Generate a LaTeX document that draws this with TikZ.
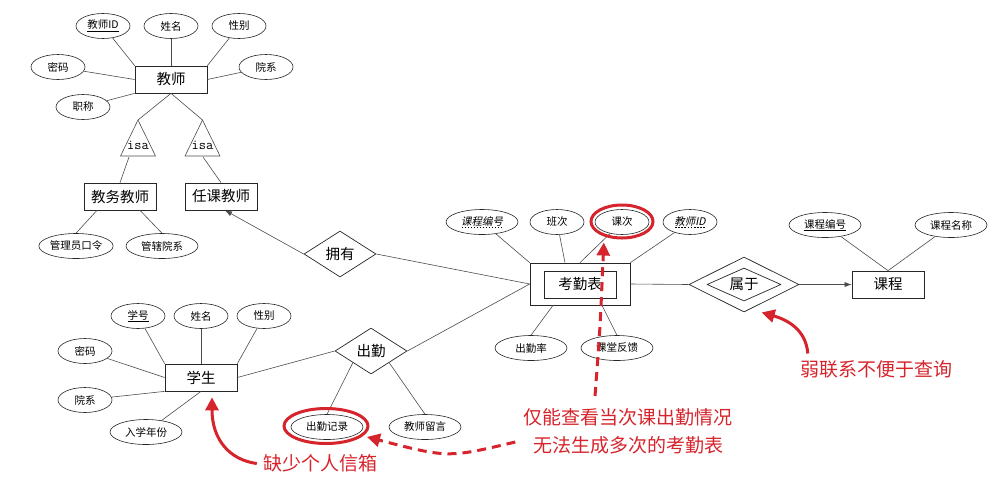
\documentclass[tikz,border=0pt]{standalone}
\usepackage{fontspec}
\setmainfont{Noto Sans CJK SC}
\newfontfamily\slcjk{Noto Sans CJK SC}[FakeSlant=0.2]
\usetikzlibrary{shapes.geometric,arrows.meta,positioning}
\definecolor{hred}{RGB}{214,36,44}
\newcommand\keyul[1]{\underline{#1}}
\newcommand\partkey[1]{\setbox0\hbox{#1}\rlap{\raisebox{-2.5pt}{\hbox to\wd0{\xleaders\hbox to 3pt{\hss\rule{1.8pt}{0.4pt}\hss}\hfill}}}\box0}

\tikzset{
  er/.style={color=black!70, line width=0.6pt, line join=round},
  entity/.style={draw=black!85, line width=0.7pt, rectangle, minimum width=72pt, minimum height=27pt, inner sep=0pt, font=\fontsize{14.5}{16}\selectfont},
  attr/.style={draw=black!85, line width=0.6pt, ellipse, minimum width=54pt, minimum height=25pt, inner sep=0pt, font=\fontsize{10.5}{12}\selectfont},
  longattr/.style={attr, minimum width=72pt},
  rel/.style={draw=black!85, line width=0.7pt, line join=round, diamond, aspect=1.6, minimum width=72pt, minimum height=46pt, inner sep=0pt, font=\fontsize{14.5}{16}\selectfont},
  isabox/.style={inner sep=0pt, font=\ttfamily\fontsize{14}{16}\selectfont},
  ring/.style={draw=hred, ellipse, line width=3pt, inner sep=0pt},
  remark/.style={text=hred, font=\fontsize{19}{28}\selectfont, align=center, inner sep=2pt},
  hint/.style={draw=hred, line width=3pt, -{Triangle[length=13pt,width=13pt]}},
  hintdash/.style={hint, dash pattern=on 9pt off 6pt},
}

\begin{document}
\begin{tikzpicture}[x=1pt, y=-1pt]
  \useasboundingbox (0,0) rectangle (1000,488);

  % teacher
  \node[entity] (tch) at (171,79.5) {教师};
  \node[attr] (tid) at (103,26) {\keyul{教师ID}};
  \node[attr] (tname) at (171,26) {姓名};
  \node[attr] (tsex) at (239,26) {性别};
  \node[attr] (tpwd) at (58,67) {密码};
  \node[attr] (tdept) at (266,67) {院系};
  \node[attr] (ttitle) at (83,107) {职称};

  % isa
  \coordinate (isaLtop) at (138,120);
  \coordinate (isaRtop) at (202.5,120);
  \coordinate (isaLfoot) at (129,157);
  \coordinate (isaRfoot) at (203,157);
  \draw[er] (isaLtop) -- ++(-17.5,36) -- ++(35,0) -- cycle;
  \draw[er] (isaRtop) -- ++(-17.5,36) -- ++(35,0) -- cycle;
  \node[isabox] (isaL) at (138,145) {isa};
  \node[isabox] (isaR) at (202.5,145) {isa};

  \node[entity] (admin) at (120,196.5) {教务教师};
  \node[entity] (teach) at (221,196.5) {任课教师};
  \node[longattr] (apwd) at (76,246) {管理员口令};
  \node[longattr] (adept) at (162,246) {管辖院系};

  % attendance table
  \node[rel] (own) at (340,254) {拥有};
  \node[draw=black!85, line width=0.7pt, minimum width=100pt, minimum height=42pt] (att) at (580,284) {};
  \node[entity] (attin) at (580,284.5) {考勤表};
  \node[longattr] (cno) at (482,222) {\slcjk\partkey{课程编号}};
  \node[attr] (bc) at (557,222) {班次};
  \node[attr] (kc) at (622,222) {课次};
  \node[attr] (tid2) at (690,222) {\slcjk\partkey{教师ID}};
  \node[longattr] (rate) at (531,348) {出勤率};
  \node[longattr] (fb) at (617,348) {课堂反馈};

  % course
  \node[draw=black!85, line width=0.7pt, line join=round, diamond, minimum width=110pt, minimum height=55pt, inner sep=0pt] (belong) at (744,284.5) {};
  \node[rel, aspect=2.2, minimum width=74pt, minimum height=33pt] (belongin) at (744,284.5) {属于};
  \node[entity] (course) at (888,284.5) {课程};
  \node[longattr] (cno2) at (825,225) {\keyul{课程编号}};
  \node[longattr] (cname) at (951,225) {课程名称};

  % student
  \node[entity] (stu) at (201,377.5) {学生};
  \node[attr] (sno) at (138,316) {\keyul{学号}};
  \node[attr] (sname) at (201,316) {姓名};
  \node[attr] (ssex) at (264,316) {性别};
  \node[attr] (spwd) at (85,351) {密码};
  \node[attr] (sdept) at (85,400) {院系};
  \node[longattr] (syear) at (146,432) {入学年份};
  \node[rel] (attend) at (371,351) {出勤};
  \node[longattr] (rec) at (327,427) {出勤记录};
  \node[longattr] (msg) at (425,427) {教师留言};

  \path[er]
  (tid) edge (tch.north west)
  (tname) edge (tch.north)
  (tsex) edge (tch.north east)
  (tpwd) edge (tch.west)
  (tdept) edge (tch.east)
  (ttitle) edge (tch.south west)
  (tch.south) edge (isaLtop)
  (tch.south) edge (isaRtop)
  (isaLfoot) edge (admin.north)
  (isaRfoot) edge (teach.north)
  ([xshift=-23pt]admin.south) edge (apwd.north)
  ([xshift=20pt]admin.south) edge (adept.north)
  (own.east) edge (att.west)
  (cno) edge (att.north west)
  (bc) edge ([xshift=-15pt]att.north)
  (kc) edge (att.north)
  (tid2) edge (att.north east)
  (rate.north) edge ([xshift=-27pt]att.south)
  (fb.north) edge ([xshift=22pt]att.south)
  (att.east) edge (belong.west)
  (cno2) edge (course.north)
  (cname) edge (course.north)
  (sno) edge (stu.north west)
  (sname) edge (stu.north)
  (ssex) edge (stu.north east)
  (spwd) edge (stu.west)
  (sdept) edge (stu.south west)
  (syear) edge (stu.south)
  (stu.east) edge (attend.west)
  (attend.east) edge (att.west)
  (attend.south west) edge (rec.north)
  (attend.south east) edge (msg.north)
;
  \path[er, -{Latex[length=7pt,width=5pt]}]
  (own.west) edge ([xshift=4pt]teach.south)
  (belong.east) edge (course.west)
;

  % remarks
  \node[ring, minimum width=62pt, minimum height=33pt] (kcring) at (622,221.5) {};
  \node[ring, minimum width=84pt, minimum height=35pt] (recring) at (326,426) {};
  \node[remark] (hint) at (628,431) {仅能查看当次课出勤情况\\无法生成多次的考勤表};
  \node[remark] (nomail) at (320,463.5) {缺少个人信箱};
  \node[remark] (weak) at (876,369.5) {弱联系不便于查询};

  \draw[hintdash, shorten >=6pt] ([shift={(-33,-10)}]hint.north) .. controls (600,330) .. (kcring.-140);
  \draw[hintdash, shorten >=4pt] ([shift={(-6,11)}]hint.west) .. controls (448,458) .. (recring.-15);
  \draw[hint] ([xshift=-4pt]nomail.west) .. controls (230,460) and (212,440) .. ([shift={(11,6)}]stu.south);
  \draw[hint] ([shift={(10,-16)}]weak.west) .. controls (806,330) and (788,320) .. ([shift={(-10,14)}]belong.south east);
\end{tikzpicture}
\end{document}
